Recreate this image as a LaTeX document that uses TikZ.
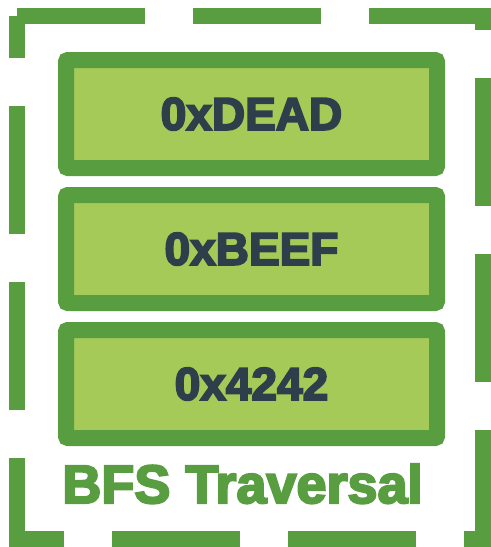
\documentclass[tikz,border=0pt]{standalone}
\usepackage{fontspec}
\setmainfont{Liberation Sans}[BoldFeatures={FakeBold=4}]
\usetikzlibrary{positioning}

\definecolor{leafgreen}{HTML}{599D41}
\definecolor{limefill}{HTML}{A6CA58}
\definecolor{slatetext}{HTML}{2E3E4B}

\tikzset{
  membox/.style={draw=leafgreen, fill=limefill, line width=12pt,
    rounded corners=1.5pt, minimum width=278.25pt, minimum height=81pt,
    inner sep=0pt, text=slatetext,
    font=\fontsize{34.5}{40}\selectfont\bfseries},
  frame/.style={draw=leafgreen, line width=12pt,
    dash pattern=on 96pt off 36pt}
}

\begin{document}
\begin{tikzpicture}[x=0.75pt, y=-0.75pt]
    \useasboundingbox (0,0) rectangle (491,547);
    % dashed outer frame
    \draw[frame] (17,16) -- (483,16) -- (483,539) -- (17,539) -- cycle;
    % stacked cells
    \node[membox] (dead) at (251.5,114) {0xDEAD};
    \node[membox, below=8.25pt of dead] (beef) {0xBEEF};
    \node[membox, below=8.25pt of beef] (fortytwo) {0x4242};
    \node[anchor=base, text=leafgreen, font=\fontsize{40.5}{46}\selectfont\bfseries]
        (caption) at (242.5,503) {BFS Traversal};
\end{tikzpicture}
\end{document}
